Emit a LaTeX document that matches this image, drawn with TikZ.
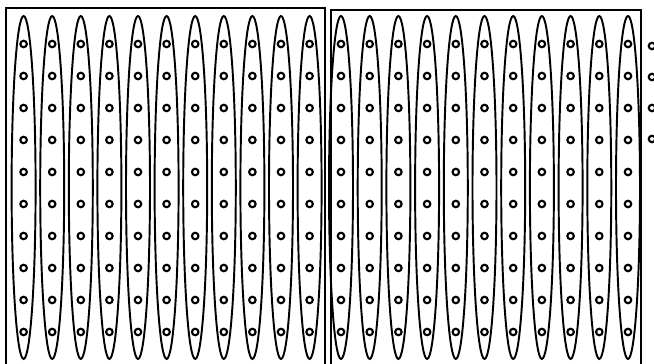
\documentclass[tikz,border=0pt]{standalone}
\usepackage{tikz}
\usetikzlibrary{shapes.geometric}

\begin{document}
\begin{tikzpicture}[
  x=0.02cm, y=-0.02cm,
  frame/.style={draw, line width=0.9pt},
  spindle/.style={draw, ellipse, line width=1.1pt, inner sep=0pt,
    minimum width=0.48cm, minimum height=6.86cm},
  dot/.style={draw, circle, line width=1.2pt, inner sep=0pt,
    minimum size=0.13cm},
]
  \useasboundingbox (0,0) rectangle (654,364);

  % Left and right frames (open at the bottom edge)
  \draw[frame] (6,366) -- (6,8) -- (325,8) -- (325,366);
  \draw[frame] (331,366) -- (331,10) -- (641,10) -- (641,366);

  % Left frame: spindles with dots
  \foreach \i in {0,...,10} {
    \node[spindle] (l\i) at (23.6+28.6*\i,187.5) {};
    \foreach \j in {0,...,9}
      \node[dot] (l\i-\j) at (23.6+28.6*\i,44+32*\j) {};
  }

  % Right frame: spindles with dots
  \foreach \i in {0,...,10} {
    \node[spindle] (r\i) at (341+28.7*\i,187.5) {};
    \foreach \j in {0,...,9}
      \node[dot] (r\i-\j) at (341+28.7*\i,44+32*\j) {};
  }

  % Dots outside the right frame
  \foreach \j in {0,...,3}
    \node[dot] (out\j) at (652,46+31*\j) {};
\end{tikzpicture}
\end{document}
